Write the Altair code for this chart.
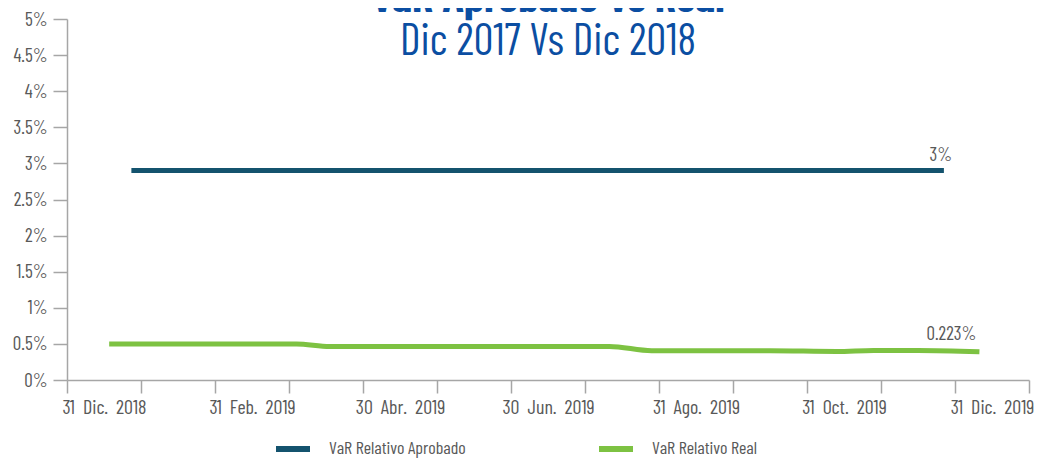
import altair as alt
import pandas as pd

# ---- data ----
series = ["VaR Relativo Aprobado", "VaR Relativo Real"]
colors = ["#14536e", "#7dc242"]

# x in month-slot units (0 = left edge of the axis, 13 slots: Dic 2018 .. Dic 2019)
aprobado_x = [0.87, 11.85]
aprobado_y = [2.9, 2.9]

real_x = [0.57, 3.10, 3.55, 7.33, 7.90, 9.50, 10.40, 10.90, 11.50, 12.33]
real_y = [0.50, 0.50, 0.465, 0.465, 0.405, 0.405, 0.395, 0.41, 0.41, 0.39]

end_labels = ["3%", "0.223%"]

tick_labels = ["31\u00a0 Dic.\u00a0 2018", "31\u00a0 Feb.\u00a0 2019", "30\u00a0 Abr.\u00a0 2019",
               "30\u00a0 Jun.\u00a0 2019", "31\u00a0 Ago.\u00a0 2019", "31\u00a0 Oct.\u00a0 2019",
               "31\u00a0 Dic.\u00a0 2019"]
n_slots = 13
y_ticks = [i * 0.5 for i in range(11)]

FONT = "Barlow Condensed"
GRAY = "#595959"
AXIS_GRAY = "#a6a6a6"
BLUE = "#0b4ea2"

rows = []
for x, y in zip(aprobado_x, aprobado_y):
    rows.append({"serie": series[0], "x": x, "y": y})
for x, y in zip(real_x, real_y):
    rows.append({"serie": series[1], "x": x, "y": y})
df = pd.DataFrame(rows)

lab_df = pd.DataFrame([
    {"serie": series[0], "x": aprobado_x[-1], "y": aprobado_y[-1], "t": end_labels[0]},
    {"serie": series[1], "x": real_x[-1], "y": real_y[-1], "t": end_labels[1]},
])

x_values = [i * 0.5 for i in range(2 * n_slots + 1)]
labels_js = "[" + ",".join("'" + t + "'" for t in tick_labels) + "]"
x_label_expr = f"(datum.value % 2 == 0.5) ? {labels_js}[floor(datum.value / 2)] : ''"

x_enc = alt.X(
    "x:Q",
    scale=alt.Scale(domain=[0, n_slots], nice=False, zero=False),
    axis=alt.Axis(
        values=x_values,
        tickCount=100,
        labelExpr=x_label_expr,
        title=None,
        grid=False,
        domainColor=AXIS_GRAY,
        domainWidth=1.5,
        tickColor=AXIS_GRAY,
        tickWidth=1.5,
        tickSize=13,
        tickOpacity={"condition": {"test": "datum.value % 1 == 0", "value": 1}, "value": 0},
        labelOverlap=False,
        labelFlush=False,
        labelPadding=4,
        labelFont=FONT,
        labelFontSize=20,
        labelColor=GRAY,
    ),
)
y_enc = alt.Y(
    "y:Q",
    scale=alt.Scale(domain=[0, 5], nice=False),
    axis=alt.Axis(
        values=y_ticks,
        tickCount=100,
        labelExpr="format(datum.value, '.1~f') + '%'",
        title=None,
        grid=False,
        domainColor=AXIS_GRAY,
        domainWidth=1.5,
        tickColor=AXIS_GRAY,
        tickWidth=1.5,
        tickSize=14,
        labelOverlap=False,
        labelPadding=6,
        labelFont=FONT,
        labelFontSize=19,
        labelColor=GRAY,
    ),
)
color_enc = alt.Color(
    "serie:N",
    scale=alt.Scale(domain=series, range=colors),
    legend=alt.Legend(
        title=None,
        orient="none",
        legendX=206,
        legendY=410,
        direction="horizontal",
        symbolType="stroke",
        symbolSize=1156,
        symbolStrokeWidth=6,
        labelFont=FONT,
        labelFontSize=18,
        labelColor=GRAY,
        labelOffset=16,
        columnPadding=121,
        labelLimit=300,
    ),
)

lines = alt.Chart(df).mark_line(strokeWidth=5, interpolate="monotone").encode(
    x=x_enc, y=y_enc, color=color_enc, detail="serie:N"
)

label_a = alt.Chart(lab_df[lab_df.serie == series[0]]).mark_text(
    align="center", baseline="alphabetic", dx=-3, dy=-10, font=FONT, fontSize=19, color=GRAY
).encode(x="x:Q", y="y:Q", text="t:N")
label_r = alt.Chart(lab_df[lab_df.serie == series[1]]).mark_text(
    align="right", baseline="alphabetic", dx=-3, dy=-12, font=FONT, fontSize=19, color=GRAY
).encode(x="x:Q", y="y:Q", text="t:N")

chart = alt.layer(lines, label_a, label_r).properties(
    width=962,
    height=361,
    autosize="none",
    padding={"left": 59, "top": 11, "right": 7, "bottom": 90},
    title=alt.TitleParams(
        text="VaR Aprobado Vs Real",
        subtitle="Dic 2017 Vs Dic 2018",
        anchor="middle",
        font=FONT,
        fontSize=45,
        fontWeight="bold",
        color=BLUE,
        subtitleFont=FONT,
        subtitleFontSize=44,
        subtitleFontWeight="normal",
        subtitleColor=BLUE,
        subtitlePadding=-1,
        offset=-54,
    ),
).configure_view(stroke=None)

chart.save("out.html", embed_options={"renderer": "svg", "actions": False})
